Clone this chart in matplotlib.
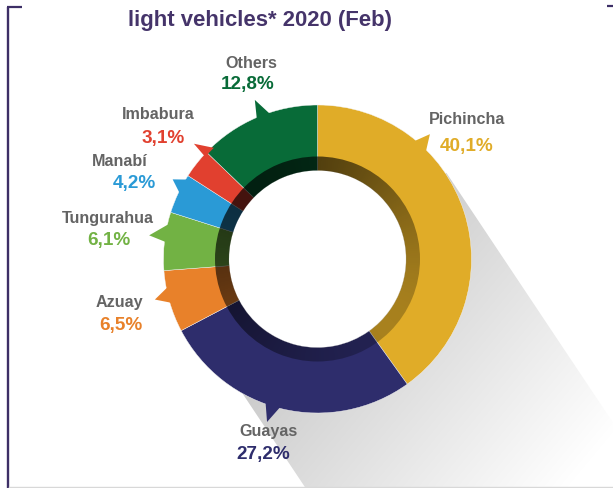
import numpy as np
import matplotlib
matplotlib.use("Agg")
import matplotlib.pyplot as plt
from matplotlib.patches import Wedge, Polygon, Circle
from matplotlib import font_manager as fm

# ---------------- data ----------------
provinces = ["Pichincha", "Guayas", "Azuay", "Tungurahua", "Manabí", "Imbabura", "Others"]
shares = [40.1, 27.2, 6.5, 6.1, 4.2, 3.1, 12.8]
colors = ["#E0AC28", "#2E2D6C", "#E8812A", "#72B244", "#2A9AD6", "#E1402F", "#086B38"]
title = "light vehicles* 2020 (Feb)"
share_labels = [f"{v:.1f}%".replace(".", ",") for v in shares]

# ---------------- layout (pixels, image coords y down) ----------------
W, H = 613, 488
CX, CY = 317.5, H - 259
R_OUT, R_RING, R_IN = 154, 102.5, 88.5

name_pos = [(467.5, 124.3), (268, 436), (119.5, 307.3), (108.3, 222.7),
            (120, 166), (158, 119.3), (251, 68.3)]
pct_pos = [(466.5, 151), (263.5, 459.3), (121, 330), (108.5, 245),
           (134.5, 188.3), (163.5, 142.7), (248, 89.3)]
# pointer: tip angle, tip radius, base angles
ptr_tip = [48, 252.8, 194, 172, 151.2, 137, 111.5]
ptr_rad = [168, 170.6, 167.6, 170, 165.3, 169, 171]
ptr_base = [(44.6, 50.7), (250, 256), (190.5, 196.8), (166.5, 173.7),
            (148.5, 154.7), (133, 137.7), (108, 113.5)]

# ---------------- fonts ----------------
avail = {f.name for f in fm.fontManager.ttflist}
if "Liberation Sans Narrow" in avail:
    FAM, SC = "Liberation Sans Narrow", 1.0
else:
    FAM, SC = "Liberation Sans", 0.86

fig = plt.figure(figsize=(W / 100, H / 100), dpi=100)
ax = fig.add_axes([0, 0, 1, 1])
ax.set_axis_off()

# ---------------- long shadow ----------------
xs = np.arange(W) + 0.5
ys = np.arange(H) + 0.5
X, Y = np.meshgrid(xs, ys)
g = (X - CX) * 0.77 - (Y - CY) * 0.64
v = np.clip(0.78 + 0.00065 * g, 0.80, 1.0)
shadow_img = np.dstack([v, v, v])
d = np.array([0.555, -0.832])
n = np.array([0.832, 0.555])
C = np.array([CX, CY])
p1 = C + 155 * n
p4 = C - 137 * n
shadow_poly = Polygon([p1, p1 + 900 * d, p4 + 900 * d, p4], closed=True,
                      transform=ax.transData)
im = ax.imshow(shadow_img, extent=(0, W, 0, H), origin="lower", zorder=1,
               interpolation="bilinear")
im.set_clip_path(shadow_poly)
# white hole of the donut hides the shadow behind it
ax.add_patch(Circle((CX, CY), R_IN + 1, facecolor="white", edgecolor="none", zorder=2))

# ---------------- donut ----------------
wedges, _ = ax.pie(shares, colors=colors, startangle=90, counterclock=False,
                   radius=R_OUT, center=(CX, CY), frame=True,
                   wedgeprops=dict(width=R_OUT - R_IN, linewidth=0.3, edgecolor="#f4f4f4"))
for w in wedges:
    w.set_zorder(3)

# pointers
for i in range(len(shares)):
    a1, a2 = np.radians(ptr_base[i])
    at = np.radians(ptr_tip[i])
    rb = R_OUT - 2
    pts = [(CX + rb * np.cos(a1), CY + rb * np.sin(a1)),
           (CX + ptr_rad[i] * np.cos(at), CY + ptr_rad[i] * np.sin(at)),
           (CX + rb * np.cos(a2), CY + rb * np.sin(a2))]
    ax.add_patch(Polygon(pts, closed=True, facecolor=colors[i], edgecolor="none", zorder=3.5))

# inner dark ring (shading overlay)
theta = np.arctan2(Y - CY, X - CX)
f = 0.525 - 0.225 * np.cos(theta - np.radians(135))
rgba = np.zeros((H, W, 4))
rgba[..., 3] = 1 - f
im2 = ax.imshow(rgba, extent=(0, W, 0, H), origin="lower", zorder=4,
                interpolation="bilinear")
ring = Wedge((CX, CY), R_RING, 0, 360, width=R_RING - R_IN, transform=ax.transData)
im2.set_clip_path(ring)

# ---------------- labels ----------------
for i in range(len(shares)):
    nx, ny = name_pos[i]
    ax.text(nx, H - ny, provinces[i], ha="center", va="baseline", fontsize=13.5 * SC,
            fontweight="bold", color="#646464", family=FAM, zorder=6)
    px, py = pct_pos[i]
    ax.text(px, H - py, share_labels[i], ha="center", va="baseline", fontsize=15.8 * SC,
            fontweight="bold", color=colors[i], family=FAM, zorder=6)

ax.text(260.5, H - 26, title, ha="center", va="baseline", fontsize=18.5 * SC,
        fontweight="bold", color="#45346A", family=FAM, zorder=6)

# ---------------- frame ----------------
frame_c = "#3D2F66"
ax.plot([7.8, 7.8], [H - 6.5, 0], color=frame_c, lw=1.7, solid_capstyle="butt", zorder=7)
ax.plot([6.7, 22], [H - 6.5, H - 6.5], color=frame_c, lw=1.6, solid_capstyle="butt", zorder=7)
ax.plot([607, 613], [H - 6.3, H - 6.3], color=frame_c, lw=1.6, solid_capstyle="butt", zorder=7)
ax.plot([9, 613], [1, 1], color="#D8D8D8", lw=1.0, zorder=7)

ax.set_xlim(0, W)
ax.set_ylim(0, H)
ax.set_aspect("auto")
fig.savefig("out.png", dpi=100)
